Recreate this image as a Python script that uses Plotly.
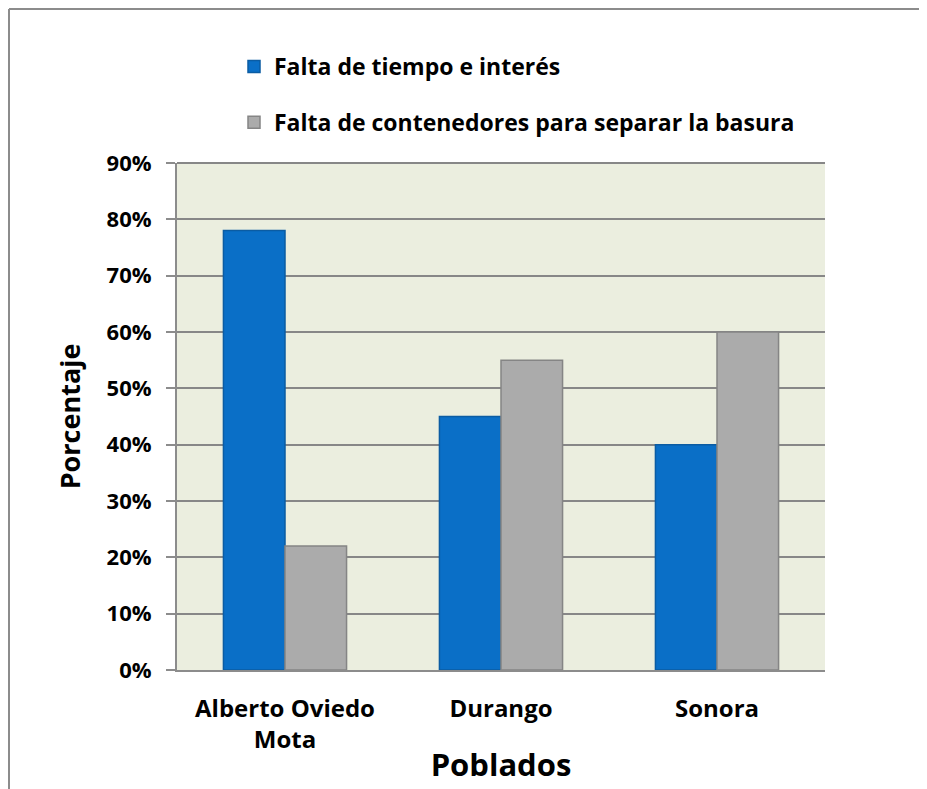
import plotly.graph_objects as go

categories = ["Alberto Oviedo<br>Mota", "Durango", "Sonora"]
series_names = ["Falta de tiempo e interés", "Falta de contenedores para separar la basura"]
tiempo = [0.78, 0.45, 0.40]
contenedores = [0.22, 0.55, 0.60]
tick_vals = [0, 0.1, 0.2, 0.3, 0.4, 0.5, 0.6, 0.7, 0.8, 0.9]
tick_text = ["0%", "10%", "20%", "30%", "40%", "50%", "60%", "70%", "80%", "90%"]

FONT = "'Open Sans', 'Noto Sans', sans-serif"

fig = go.Figure()
fig.add_trace(go.Bar(
    x=categories, y=tiempo, name=series_names[0], legendgroup="a",
    marker=dict(color="#0A6FC7", line=dict(color="#0B5CA3", width=1.5)),
))
fig.add_trace(go.Bar(
    x=categories, y=contenedores, name=series_names[1], legendgroup="b",
    marker=dict(color="#ABABAB", line=dict(color="#858585", width=1.5)),
))

# page body has an 8px margin: figure coords = screen coords - 8
OFF = 8
W, H = 927 - OFF, 789 - OFF
L, T = 177 - OFF, 163 - OFF
R = W - (825 - OFF)
B = H - (670 - OFF)
pw, ph = W - L - R, H - T - B

def px_x(p):
    return (p - OFF - L) / pw

def px_y(p):
    return (H - B - (p - OFF)) / ph

fig.update_layout(
    width=W, height=H,
    margin=dict(l=L, r=R, t=T, b=B, autoexpand=False),
    paper_bgcolor="white",
    plot_bgcolor="#EBEEDF",
    barmode="group",
    bargap=0.43,
    bargroupgap=0,
    font=dict(family=FONT, color="black", size=18, weight="bold"),
    showlegend=True,
    legend=dict(
        x=px_x(234), y=px_y(45), xanchor="left", yanchor="top",
        font=dict(size=23, family=FONT, weight="bold"),
        tracegroupgap=23, bgcolor="rgba(0,0,0,0)",
        traceorder="grouped", itemwidth=30,
    ),
    xaxis=dict(
        showline=True, linecolor="#8C8C8C", linewidth=2,
        ticks="", ticklabelstandoff=16,
        tickfont=dict(size=24, family=FONT, weight="bold"),
        title=dict(text="Poblados", font=dict(size=31, family=FONT, weight="bold"), standoff=0),
        showgrid=False,
    ),
    yaxis=dict(
        range=[0, 0.9], tickvals=tick_vals, ticktext=tick_text,
        showline=True, linecolor="#8C8C8C", linewidth=2,
        ticks="outside", ticklen=9, tickcolor="#8C8C8C", tickwidth=2,
        ticklabelstandoff=10,
        tickfont=dict(size=22, family=FONT, weight="bold"),
        showgrid=True, gridcolor="#878787", gridwidth=2,
        zeroline=False,
        title=dict(text="Porcentaje", font=dict(size=27, family=FONT, weight="bold"), standoff=18),
    ),
    shapes=[
        dict(type="line", xref="paper", yref="paper",
             x0=px_x(9), x1=px_x(9), y0=px_y(9), y1=px_y(800),
             line=dict(color="#8C8C8C", width=2)),
        dict(type="line", xref="paper", yref="paper",
             x0=px_x(9), x1=px_x(930), y0=px_y(9), y1=px_y(9),
             line=dict(color="#8C8C8C", width=2)),
        dict(type="line", xref="paper", yref="paper",
             x0=0, x1=1, y0=1, y1=1,
             line=dict(color="#878787", width=2)),
    ],
)

fig.write_html("out.html")
